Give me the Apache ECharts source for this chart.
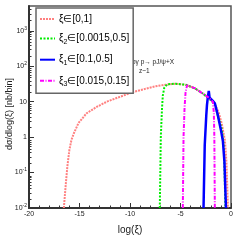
<!DOCTYPE html>
<html><head><meta charset="utf-8">
<script src="https://cdn.jsdelivr.net/npm/echarts@6/dist/echarts.min.js"></script>
<style>html,body{margin:0;padding:0;background:#fff}#c{width:240px;height:240px}</style>
</head><body><div id="c"></div>
<script>
// ---- data ----
const seriesNames = ['all', 'xi2', 'xi1', 'xi3'];
const legendLabels = ['{a|ξ∈[0,1]}', '{a|ξ}{s|2}{a|∈[0.0015,0.5]}', '{a|ξ}{s|1}{a|∈[0.1,0.5]}', '{a|ξ}{s|3}{a|∈[0.015,0.15]}'];
const redX = [-16.55, -16.35, -16.2, -16.0, -15.8, -15.55, -15.1, -14.3, -13.3, -12.3, -11.0, -9.6, -8.5, -7.5, -6.5, -5.5, -4.5, -3.6, -2.8, -2.2, -1.6, -1.2, -0.9, -0.6, -0.45, -0.3];
const redY = [0.01, 0.05, 0.15, 0.44, 0.83, 1.3, 2.5, 4.7, 7.1, 10, 13.7, 19, 23, 27, 30, 32, 30, 24, 17, 13, 8.5, 4.8, 2.3, 0.8, 0.2, 0.01];
const greenX = [-7.05, -6.95, -6.83, -6.75, -6.6, -6.3, -5.5, -4.5, -3.6, -2.8, -2.3, -2.0, -1.6, -1.3, -0.9, -0.7, -0.55];
const greenY = [0.01, 1, 6.5, 15, 25, 31, 32, 30, 24, 17, 13, 11, 8.5, 4, 1.6, 0.5, 0.01];
const blueX = [-2.72, -2.6, -2.45, -2.38, -2.3, -2.2, -2.12, -2.0, -1.8, -1.6, -1.3, -1.0, -0.8, -0.65, -0.5];
const blueY = [0.01, 0.6, 4, 8, 13, 20, 13, 12, 10.5, 9, 4.1, 1.6, 0.76, 0.2, 0.01];
const magX = [-4.77, -4.7, -4.6, -4.5, -4.35, -3.6, -2.8, -2.2, -1.8, -1.7, -1.65, -1.6];
const magY = [0.01, 1, 6.5, 18, 29, 24, 17, 13, 10, 5, 1, 0.01];
const yMajorTicks = [0.01, 0.1, 1, 10, 100, 1000];
const yTickLabels = ['10{p|-2}', '10{p|-1}', '1', '10', '10{p|2}', '10{p|3}'];
const xAxisTitle = 'log(ξ)';
const yAxisTitle = 'dσ/dlog(ξ) [nb/bin]';
const note1 = 'pγ p→ pJ/ψ+X';
const note2 = 'z~1';

const yMinorTicks = [];
for (let e = -2; e <= 3; e++) for (let m = 2; m <= 9; m++) { const v = m * Math.pow(10, e); if (v < 5000) yMinorTicks.push(+v.toPrecision(3)); }
const zip = (xs, ys) => xs.map((x, i) => [x, ys[i]]);

const FONT = 'Liberation Sans';
const chart = echarts.init(document.getElementById('c'));
const styles = [
  {color: '#ff8080', width: 2, type: [2, 1]},
  {color: '#00ee00', width: 2, type: [2, 1.5]},
  {color: '#0000ff', width: 2.5, type: 'solid'},
  {color: '#ff00ff', width: 2, type: [4, 1.5, 1, 1.5]}
];
const datas = [zip(redX, redY), zip(greenX, greenY), zip(blueX, blueY), zip(magX, magY)];
const labelMap = {};
seriesNames.forEach((n, i) => labelMap[n] = legendLabels[i]);
const gridRect = {left: 29, right: 9, top: 6, bottom: 30};

chart.setOption({
  animation: false,
  grid: [Object.assign({show: true, borderColor: '#555', borderWidth: 1.5, backgroundColor: 'transparent'}, gridRect), Object.assign({}, gridRect)],
  legend: {
    data: seriesNames.map(n => ({name: n, itemStyle: {opacity: 0}})),
    orient: 'vertical', left: 36, top: 8, width: 83, height: 80,
    padding: [6, 4, 6, 3], itemGap: 9.6, itemWidth: 15, itemHeight: 10,
    borderColor: '#666', borderWidth: 1.5, backgroundColor: '#fff',
    formatter: n => labelMap[n],
    textStyle: {fontFamily: FONT, fontSize: 10, color: '#000', padding: [0, 0, 0, -1],
      rich: {a: {fontFamily: FONT, fontSize: 10, color: '#000'}, s: {fontFamily: FONT, fontSize: 7, color: '#000', padding: [6, 0, 0, 0]}}}
  },
  xAxis: [{
    type: 'value', min: -20, max: 0, interval: 5,
    name: xAxisTitle, nameLocation: 'middle', nameGap: 17,
    nameTextStyle: {fontFamily: FONT, fontSize: 10, color: '#222'},
    axisLine: {onZero: false, lineStyle: {color: '#333', width: 2}},
    axisTick: {inside: true, length: 5, lineStyle: {color: '#333'}},
    minorTick: {show: true, splitNumber: 5, length: 2.5, lineStyle: {color: '#333'}},
    splitLine: {show: false},
    axisLabel: {fontFamily: FONT, fontSize: 7, color: '#222', margin: 3}
  }, {
    type: 'value', gridIndex: 1, min: -20, max: 0, show: false
  }],
  yAxis: [{
    type: 'log', logBase: 10, min: 0.01, max: 5000, position: 'left',
    axisLine: {show: true, onZero: false, lineStyle: {color: '#333', width: 2}},
    axisTick: {inside: true, length: 5, customValues: yMajorTicks, lineStyle: {color: '#333'}},
    splitLine: {show: false},
    axisLabel: {customValues: yMajorTicks, fontFamily: FONT, fontSize: 7, color: '#222', margin: 2,
      formatter: v => { const i = yMajorTicks.findIndex(t => Math.abs(Math.log10(t) - Math.log10(v)) < 1e-6); return i >= 0 ? yTickLabels[i] : ''; },
      rich: {p: {fontFamily: FONT, fontSize: 5, color: '#222', padding: [0, 0, 5, 0]}}}
  }, {
    type: 'log', gridIndex: 1, logBase: 10, min: 0.01, max: 5000, position: 'left',
    axisLine: {show: false, onZero: false},
    axisTick: {inside: true, length: 2.5, customValues: yMinorTicks, lineStyle: {color: '#333'}},
    axisLabel: {show: false}, splitLine: {show: false}
  }],
  graphic: [
    {type: 'text', x: 10, y: 114, rotation: Math.PI / 2, style: {text: yAxisTitle, fontFamily: FONT, fontSize: 9, fill: '#222', align: 'center', verticalAlign: 'middle'}},
    {type: 'text', left: 132, top: 59, style: {text: note1, fontFamily: FONT, fontSize: 6.5, fill: '#222'}},
    {type: 'text', left: 139, top: 68, style: {text: note2, fontFamily: FONT, fontSize: 6.5, fill: '#222'}}
  ],
  series: seriesNames.map((n, i) => ({
    name: n, type: 'line', data: datas[i], symbol: 'none', clip: true,
    itemStyle: {color: styles[i].color},
    lineStyle: {color: styles[i].color, width: styles[i].width, type: styles[i].type}
  }))
});
</script></body></html>
